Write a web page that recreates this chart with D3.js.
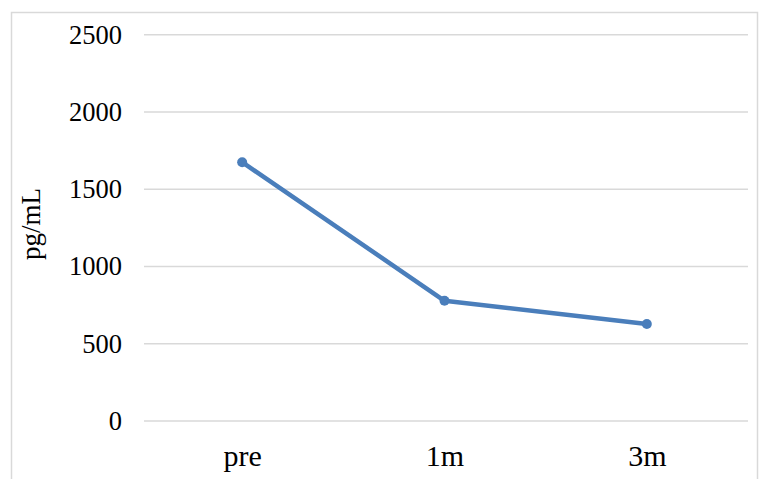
<!DOCTYPE html>
<html>
<head>
<meta charset="utf-8">
<script src="https://cdn.jsdelivr.net/npm/d3@7"></script>
<style>
  body { margin: 0; background: #fff; }
  text { font-family: "Liberation Serif", "Times New Roman", serif; fill: #000; }
</style>
</head>
<body>
<script>
var w = 759;
var h = 479;

var categories = ["pre", "1m", "3m"];
var values = [1675, 778, 628];
var yTicks = [0, 500, 1000, 1500, 2000, 2500];

var svg = d3.select("body")
  .append("svg")
  .attr("width", w)
  .attr("height", h);

// chart border (cropped at right and bottom)
svg.append("rect")
  .attr("x", 11.5)
  .attr("y", 12.5)
  .attr("width", 746)
  .attr("height", 500)
  .attr("fill", "none")
  .attr("stroke", "#d9d9d9")
  .attr("stroke-width", 1.5);

var xScale = d3.scalePoint()
  .domain(categories)
  .range([141, 748])
  .padding(0.5);

var yScale = d3.scaleLinear()
  .domain([0, 2500])
  .range([421, 34.7]);

// gridlines
svg.append("g")
  .selectAll("line")
  .data(yTicks)
  .enter()
  .append("line")
  .attr("x1", 144)
  .attr("x2", 748)
  .attr("y1", function(d) { return yScale(d); })
  .attr("y2", function(d) { return yScale(d); })
  .attr("stroke", "#d9d9d9")
  .attr("stroke-width", 1.5);

var yAxis = d3.axisLeft(yScale)
  .tickValues(yTicks)
  .tickFormat(d3.format("d"))
  .tickSize(0)
  .tickPadding(0);

svg.append("g")
  .attr("transform", "translate(122,0)")
  .call(yAxis)
  .call(function(g) { g.select(".domain").remove(); })
  .selectAll("text")
  .style("font-family", "Liberation Serif")
  .style("font-size", "26.5px")
  .attr("fill", "#000");

var xAxis = d3.axisBottom(xScale)
  .tickSize(0)
  .tickPadding(0);

svg.append("g")
  .attr("transform", "translate(0,445)")
  .call(xAxis)
  .call(function(g) { g.select(".domain").remove(); })
  .selectAll("text")
  .style("font-family", "Liberation Serif")
  .style("font-size", "30px")
  .attr("fill", "#000");

svg.append("text")
  .attr("transform", "translate(40,224) rotate(-90)")
  .style("text-anchor", "middle")
  .style("font-size", "27px")
  .text("pg/mL");

var line = d3.line()
  .x(function(d, i) { return xScale(categories[i]); })
  .y(function(d) { return yScale(d); });

svg.append("path")
  .datum(values)
  .attr("d", line)
  .attr("fill", "none")
  .attr("stroke", "#4a7ebb")
  .attr("stroke-width", 4.5)
  .attr("stroke-linejoin", "round");

svg.selectAll("circle")
  .data(values)
  .enter()
  .append("circle")
  .attr("cx", function(d, i) { return xScale(categories[i]); })
  .attr("cy", function(d) { return yScale(d); })
  .attr("r", 5)
  .attr("fill", "#4a7ebb");
</script>
</body>
</html>
